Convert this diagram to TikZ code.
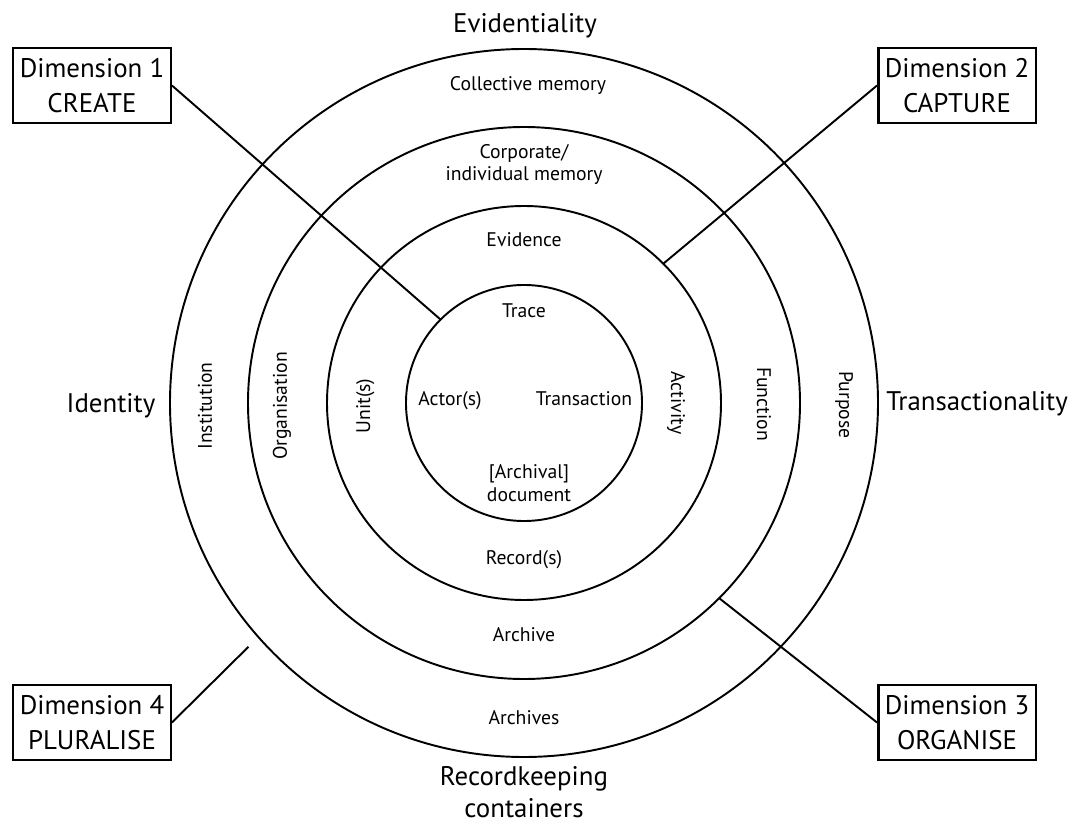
\documentclass[tikz,border=0pt]{standalone}
\usepackage{fontspec}
\setmainfont{PT Sans}
\usepackage{tikz}

\begin{document}
\begin{tikzpicture}[x=0.02cm, y=0.02cm,
  ring/.style={line width=1.1pt},
  dimbox/.style={draw, line width=1.4pt, minimum width=3.15cm, minimum height=1.49cm, inner sep=0pt,
    align=center, font=\fontsize{15.3}{19.8}\selectfont},
  axis/.style={anchor=base, align=center, font=\fontsize{15.3}{18}\selectfont},
  lbl/.style={anchor=base, align=center, font=\fontsize{11.2}{13}\selectfont}]
\useasboundingbox (-524,-421) rectangle (553,403);

\coordinate (O) at (0,0);
\draw[ring] (O) circle (118);
\draw[ring] (O) circle (197);
\draw[ring] (O) circle (276);
\draw[ring] (O) circle (354);

\node[axis] (evid) at (1,370) {Evidentiality};
\node[axis] (ident) at (-413,-10) {Identity};
\node[axis, anchor=base east] (trans) at (550,-8) {Transactionality};
\node[axis] (rkc) at (0,-414) {Recordkeeping\\containers};

\node[lbl] (colmem) at (4,312) {Collective memory};
\node[lbl] (corpmem) at (0,222) {Corporate/\\individual memory};
\node[lbl] (evidence) at (0,156) {Evidence};
\node[lbl] (trace) at (0,85) {Trace};
\node[lbl] (actor) at (-74,-3) {Actor(s)};
\node[lbl] (transaction) at (60,-3) {Transaction};
\node[lbl] (doc) at (5,-98) {[Archival]\\document};
\node[lbl] (record) at (0,-161) {Record(s)};
\node[lbl] (archive) at (0,-238) {Archive};
\node[lbl] (archives) at (0,-321) {Archives};

\node[lbl, rotate=90] (inst) at (-312,-3) {Institution};
\node[lbl, rotate=90] (org) at (-237,-3) {Organisation};
\node[lbl, rotate=90] (unit) at (-154,-3) {Unit(s)};
\node[lbl, rotate=-90] (activity) at (147,0) {Activity};
\node[lbl, rotate=-90] (function) at (233,-1) {Function};
\node[lbl, rotate=-90] (purpose) at (315,-2) {Purpose};

\node[dimbox] (dim1) at (-432,317.5) {Dimension 1\\CREATE};
\node[dimbox] (dim2) at (433,317.5) {Dimension 2\\CAPTURE};
\node[dimbox] (dim3) at (433,-319.5) {Dimension 3\\ORGANISE};
\node[dimbox] (dim4) at (-432,-319.5) {Dimension 4\\PLURALISE};

\coordinate (e1) at (135:118); \coordinate (e2) at (45:197);
\coordinate (e3) at (-45:276); \coordinate (e4) at (221.5:368);
\draw[ring] (dim1.east) -- (e1);
\draw[ring] (dim2.west) -- (e2);
\draw[ring] (dim3.west) -- (e3);
\draw[ring] (dim4.east) -- (e4);

\end{tikzpicture}
\end{document}
